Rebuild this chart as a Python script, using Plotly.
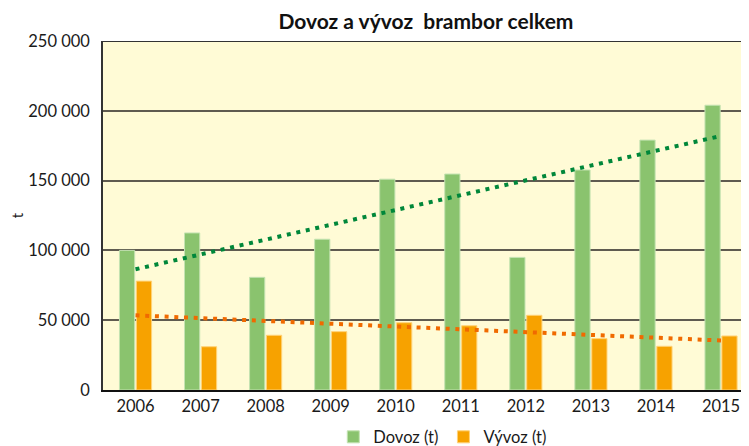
import numpy as np
import plotly.graph_objects as go

years = ["2006", "2007", "2008", "2009", "2010", "2011", "2012", "2013", "2014", "2015"]
dovoz = [100000, 112500, 80700, 108000, 151000, 154700, 95000, 157600, 179000, 204000]
vyvoz = [78000, 31000, 39200, 41800, 48200, 46000, 53500, 36800, 31300, 38700]

x = np.arange(len(years))
gfit = np.polyfit(x, dovoz, 1)
ofit = np.polyfit(x, vyvoz, 1)
xt = np.array([x[0], x[-1]])

fig = go.Figure()
fig.add_trace(go.Bar(x=x, y=dovoz, name="Dovoz (t)",
                     marker=dict(color="#8AC36E", line=dict(color="#C4E3B2", width=1))))
fig.add_trace(go.Bar(x=x, y=vyvoz, name="Vývoz (t)",
                     marker=dict(color="#F7A200", line=dict(color="#FFD277", width=1))))
fig.add_trace(go.Scatter(x=xt, y=np.polyval(gfit, xt), mode="lines", showlegend=False,
                         line=dict(color="#00873A", width=4, dash="4px,5.7px"), hoverinfo="skip"))
fig.add_trace(go.Scatter(x=xt, y=np.polyval(ofit, xt), mode="lines", showlegend=False,
                         line=dict(color="#F06A00", width=4, dash="4px,5.7px"), hoverinfo="skip"))

fig.update_layout(
    width=741, height=438,
    margin=dict(l=95, r=0, t=33, b=56, autoexpand=False),
    paper_bgcolor="white", plot_bgcolor="#FFFBD6",
    separators=", ",
    font=dict(family="Lato, Open Sans, sans-serif", size=16.5, color="#1a1a1a"),
    title=dict(text="<b>Dovoz a vývoz  brambor celkem</b>", x=0.564, xanchor="center",
               xref="container", yref="container",
               y=0.968, yanchor="middle", font=dict(size=21, color="#111")),
    barmode="group", bargap=0.48, bargroupgap=0.1,
    showlegend=True,
    legend=dict(orientation="h", x=0.526, xanchor="center", y=-0.135, yanchor="middle",
                font=dict(size=16.5), bgcolor="rgba(0,0,0,0)"),
    xaxis=dict(range=[-0.5, 9.43], tickmode="array", tickvals=list(x), ticktext=years,
               showgrid=False, showline=True, linecolor="#111", linewidth=2,
               ticks="", tickfont=dict(size=16.5), zeroline=False),
    yaxis=dict(range=[0, 250000], dtick=50000, tickformat=",d", showgrid=True,
               gridcolor="#5F5B50", gridwidth=2, showline=True, linecolor="#333",
               linewidth=1.5, ticks="", zeroline=False, ticklabelstandoff=8,
               title=dict(text="t", font=dict(size=15), standoff=10),
               tickfont=dict(size=16.5)),
)
fig.add_shape(type="line", xref="paper", yref="y", x0=0, x1=1, y0=250000, y1=250000,
              line=dict(color="#333", width=2))
fig.write_html("out.html")
